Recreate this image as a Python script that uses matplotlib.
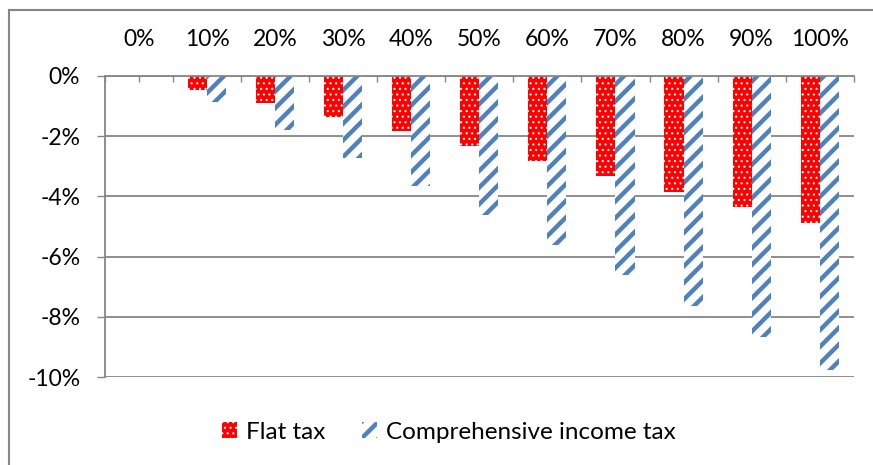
import numpy as np
import matplotlib
matplotlib.use("Agg")
import matplotlib.pyplot as plt
from matplotlib.patches import Rectangle, Patch
from matplotlib.ticker import FixedLocator, FuncFormatter

plt.rcParams["font.family"] = ["Lato", "DejaVu Sans"]

categories = ["0%", "10%", "20%", "30%", "40%", "50%", "60%", "70%", "80%", "90%", "100%"]
flat_tax = [0, -0.45, -0.89, -1.37, -1.84, -2.33, -2.81, -3.32, -3.86, -4.36, -4.89]
comp_tax = [0, -0.87, -1.81, -2.74, -3.66, -4.63, -5.61, -6.62, -7.65, -8.67, -9.77]

RED = "#FF0000"
BLUE = "#4F81BD"
GRID = "#868686"
FS = 16.5
STRIPE_LW = 3.2
DOT_LW = 0.8

fig = plt.figure(figsize=(8.73, 4.65), dpi=100)
ax = fig.add_axes([105/873, 1-377/465, (853.7-105)/873, (377-76)/465])

x = np.arange(len(categories))
w = 0.28

plt.rcParams["hatch.linewidth"] = STRIPE_LW
b_comp = ax.bar(x + w/2, comp_tax, w, color="white", edgecolor=BLUE, linewidth=0, hatch="//", zorder=2)
plt.rcParams["hatch.linewidth"] = DOT_LW
b_flat = ax.bar(x - w/2, flat_tax, w, color=RED, edgecolor="white", linewidth=0, hatch="...", zorder=2)

def set_hlw(patches, lw):
    for p in patches:
        if hasattr(p, "set_hatch_linewidth"):
            p.set_hatch_linewidth(lw)

set_hlw(b_comp, STRIPE_LW)
set_hlw(b_flat, DOT_LW)

ax.set_xlim(-0.5, len(categories) - 0.5)
ax.set_ylim(-10, 0)

# x axis on top, ticks pointing into the plot
ax.xaxis.tick_top()
ax.set_xticks(x)
ax.set_xticklabels(categories, fontsize=FS)
ax.xaxis.set_minor_locator(FixedLocator(np.arange(-0.5, len(categories), 1)))
ax.tick_params(axis="x", which="both", direction="in", length=4.5, width=1, color=GRID, pad=19)

ax.set_yticks(np.arange(-10, 1, 2))
ax.yaxis.set_major_formatter(FuncFormatter(lambda v, p: f"{v:.0f}%"))
ax.tick_params(axis="y", direction="out", length=5.8, width=1, color=GRID, pad=12, labelsize=FS)

ax.grid(axis="y", color=GRID, linewidth=1.3, zorder=0)
ax.set_axisbelow(True)
for s in ["right", "bottom"]:
    ax.spines[s].set_visible(False)
ax.spines["left"].set_color(GRID)
ax.spines["left"].set_linewidth(1.3)
ax.spines["top"].set_color(GRID)
ax.spines["top"].set_linewidth(1.3)

# legend
h1 = Patch(facecolor=RED, edgecolor="white", linewidth=0, hatch="...")
h2 = Patch(facecolor="white", edgecolor=BLUE, linewidth=0, hatch="//")
leg = fig.legend([h1, h2], ["Flat tax", "Comprehensive income tax"], loc="center",
                 bbox_to_anchor=(449/873, 1-432/465), ncol=2, frameon=False, fontsize=17.5,
                 handlelength=0.62, handleheight=0.62, handletextpad=0.37, columnspacing=1.5)
lp = leg.get_patches()
set_hlw(lp[:1], DOT_LW)
set_hlw(lp[1:], STRIPE_LW)

# chart area border
fig.patches.append(Rectangle((9/873, -0.2), 1.2, (465-10)/465 + 0.2, transform=fig.transFigure,
                             fill=False, edgecolor=GRID, linewidth=1.5))

fig.savefig("out.png", dpi=100)
